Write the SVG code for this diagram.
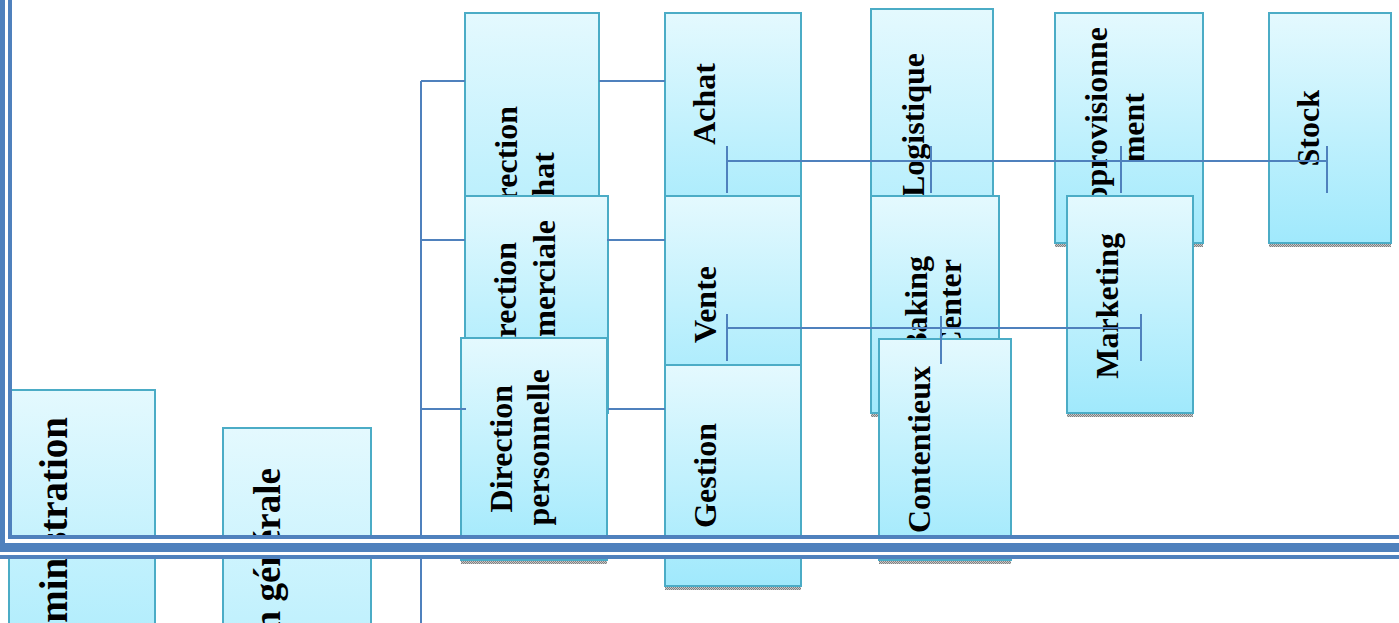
<svg xmlns="http://www.w3.org/2000/svg" width="1399" height="623" viewBox="0 0 1399 623">
<defs>
<style>
.box{fill:url(#boxGrad);stroke:#4BACC6;stroke-width:2}
.shadow{fill:url(#shadowPat)}
.lbl{font-family:"Liberation Serif","Times New Roman",serif;font-weight:bold;font-size:32px;fill:#000;text-anchor:end}
.big{font-size:39px}
.big2{font-size:37px}
.con{stroke:#4F81BD;stroke-width:2;fill:none}
.brd{fill:#4F81BD}
</style>
<linearGradient id="boxGrad" x1="0" y1="0" x2="0" y2="1">
<stop offset="0" stop-color="#E4F9FE"/>
<stop offset="1" stop-color="#A0E9FC"/>
</linearGradient>
<pattern id="shadowPat" width="2" height="2" patternUnits="userSpaceOnUse">
<rect width="2" height="2" fill="#c8c8c8"/>
<rect width="1" height="1" fill="#808080"/>
<rect x="1" y="1" width="1" height="1" fill="#808080"/>
</pattern>
</defs>
<rect width="1399" height="623" fill="#fff"/>

<g id="node-administration">
<rect class="box" x="9" y="390" width="146" height="330"/>
<text class="lbl big" transform="translate(67,417) rotate(-90)">Administration</text>
</g>
<g id="node-direction-generale">
<rect class="box" x="223" y="428" width="148" height="380"/>
<text class="lbl big2" transform="translate(280,468) rotate(-90)">Direction générale</text>
</g>

<g id="node-direction-achat">
<rect class="box" x="465" y="13" width="134" height="314"/>
<text class="lbl" transform="translate(517,106) rotate(-90)">Direction</text>
<text class="lbl" transform="translate(554,152) rotate(-90)">achat</text>
</g>
<g id="node-direction-commerciale">
<rect class="box" x="465" y="196" width="143" height="217"/>
<rect class="shadow" x="465" y="414" width="143" height="3"/>
<text class="lbl" transform="translate(516,242) rotate(-90)">Direction</text>
<text class="lbl" transform="translate(555,220) rotate(-90)">commerciale</text>
</g>
<g id="node-direction-personnelle">
<rect class="box" x="461" y="338" width="146" height="222"/>
<rect class="shadow" x="461" y="561" width="146" height="3"/>
<text class="lbl" transform="translate(512,385) rotate(-90)">Direction</text>
<text class="lbl" transform="translate(549,369) rotate(-90)">personnelle</text>
</g>

<g id="node-achat">
<rect class="box" x="665" y="13" width="136" height="230"/>
<text class="lbl" transform="translate(715,63) rotate(-90)">Achat</text>
</g>
<g id="node-vente">
<rect class="box" x="665" y="196" width="136" height="217"/>
<text class="lbl" transform="translate(716,266) rotate(-90)">Vente</text>
</g>
<g id="node-gestion">
<rect class="box" x="665" y="365" width="136" height="221"/>
<rect class="shadow" x="665" y="587" width="136" height="3"/>
<text class="lbl" transform="translate(716,423) rotate(-90)">Gestion</text>
</g>

<g id="node-logistique">
<rect class="box" x="871" y="9" width="122" height="300"/>
<text class="lbl" transform="translate(924,53) rotate(-90)">Logistique</text>
</g>
<g id="node-baking-center">
<rect class="box" x="871" y="196" width="128" height="217"/>
<rect class="shadow" x="871" y="414" width="128" height="3"/>
<text class="lbl" transform="translate(927,256) rotate(-90)">Baking</text>
<text class="lbl" transform="translate(961,259) rotate(-90)">Center</text>
</g>
<g id="node-contentieux">
<rect class="box" x="879" y="339" width="132" height="221"/>
<rect class="shadow" x="879" y="561" width="132" height="3"/>
<text class="lbl" transform="translate(930,366) rotate(-90)">Contentieux</text>
</g>

<g id="node-approvisionnement">
<rect class="box" x="1055" y="13" width="148" height="230"/>
<rect class="shadow" x="1055" y="244" width="148" height="3"/>
<text class="lbl" transform="translate(1107,27) rotate(-90)">Approvisionne</text>
<text class="lbl" transform="translate(1144,93) rotate(-90)">ment</text>
</g>
<g id="node-marketing">
<rect class="box" x="1067" y="196" width="126" height="217"/>
<rect class="shadow" x="1067" y="414" width="126" height="3"/>
<text class="lbl" transform="translate(1118,233) rotate(-90)">Marketing</text>
</g>
<g id="node-stock">
<rect class="box" x="1269" y="13" width="122" height="230"/>
<rect class="shadow" x="1269" y="244" width="122" height="3"/>
<text class="lbl" transform="translate(1319,90) rotate(-90)">Stock</text>
</g>

<g id="connectors">
<path class="con" d="M421,81 V623"/>
<path class="con" d="M421,81 H465 M421,240 H465 M421,409 H466"/>
<path class="con" d="M599,81 H665 M607,240 H665 M608,409 H665"/>
<path class="con" d="M727,161 H1327 M727,146 V193 M931,146 V193 M1121,146 V193 M1327,146 V193"/>
<path class="con" d="M727,328 H1141 M727,314 V361 M941,316 V364 M1141,314 V361"/>
</g>

<g id="page-border">
<rect x="0" y="539" width="1399" height="16" fill="#fff"/>
<rect class="brd" x="0" y="0" width="5" height="552"/>
<rect class="brd" x="8" y="0" width="4" height="539"/>
<rect class="brd" x="8" y="535" width="1391" height="4"/>
<rect class="brd" x="0" y="543" width="1399" height="9"/>
<rect class="brd" x="0" y="555" width="1399" height="4"/>
</g>
</svg>
